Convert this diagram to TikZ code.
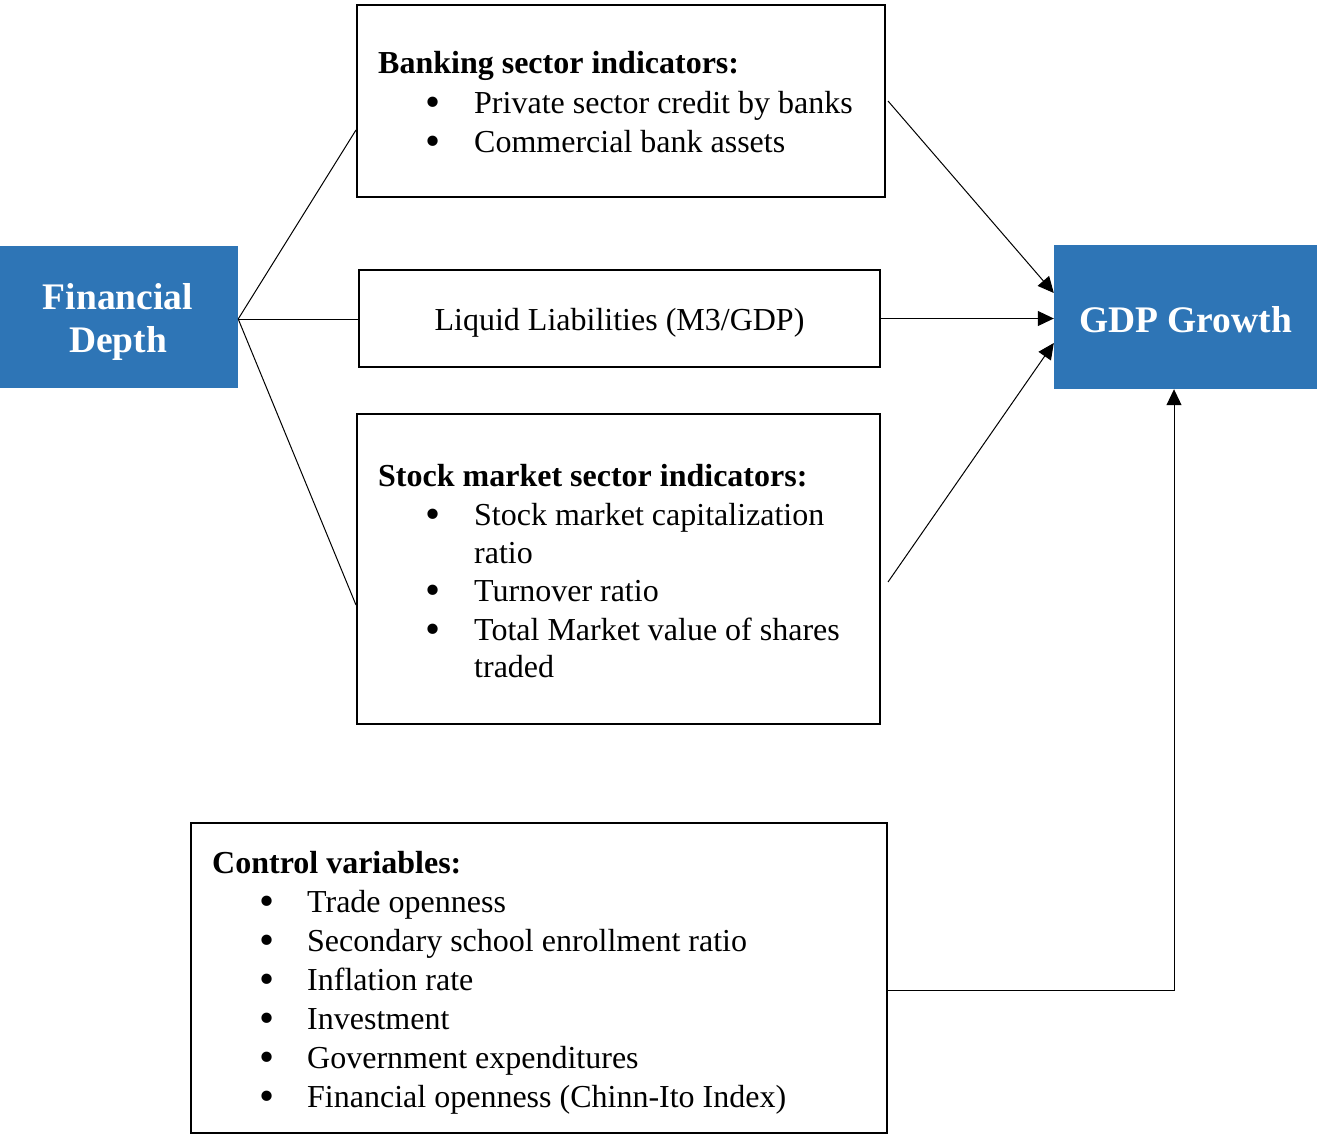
\documentclass[tikz,border=0pt]{standalone}
\usepackage{fontspec}
\setmainfont{Liberation Serif}
\usetikzlibrary{arrows.meta}
\definecolor{boxblue}{HTML}{2E75B6}
\begin{document}
\begin{tikzpicture}[x=1pt,y=-1pt,
 bluebox/.style={fill=boxblue, draw=none, inner sep=0pt},
 bluetext/.style={inner sep=0pt, text=white, font=\fontsize{37.5}{43}\selectfont\bfseries, align=center},
 whitebox/.style={draw=black, line width=2pt, inner sep=0pt},
 txt/.style={anchor=base west, inner sep=0pt, font=\fontsize{32}{39}\selectfont},
 hd/.style={anchor=base west, inner sep=0pt, font=\fontsize{32}{39}\selectfont\bfseries},
 bul/.style={anchor=base, inner sep=0pt, font=\fontsize{43}{43}\selectfont},
 conn/.style={line width=1pt},
 arr/.style={line width=1pt, -{Triangle[length=16pt,width=15pt]}}
]
\useasboundingbox (0,0) rectangle (1317,1135);

% blue boxes
\node[bluebox, minimum width=238pt, minimum height=142pt] (fd) at (119,317) {};
\node[bluetext] (fdt) at (118,322) {Financial\\Depth};
\node[bluebox, minimum width=263pt, minimum height=144pt] (gdp) at (1185.5,317) {};
\node[bluetext] (gdpt) at (1185.5,320) {GDP Growth};

% white boxes
\node[whitebox, minimum width=528pt, minimum height=192pt] (bank) at (621,101) {};
\node[whitebox, minimum width=521pt, minimum height=97pt] (liq) at (619.5,318.5) {};
\node[txt, anchor=base] (liqt) at (619.5,330) {Liquid Liabilities (M3/GDP)};
\node[whitebox, minimum width=523pt, minimum height=310pt] (stock) at (618.5,569) {};
\node[whitebox, minimum width=696pt, minimum height=310pt] (ctrl) at (539,978) {};

% banking text
\node[hd] (bankh) at (378,73) {Banking sector indicators:};
\node[bul] (bb1) at (433,116) {•};
\node[txt] (bt1) at (474,113) {Private sector credit by banks};
\node[bul] (bb2) at (433,155) {•};
\node[txt] (bt2) at (474,152) {Commercial bank assets};

% stock text
\node[hd] (stockh) at (378,486) {Stock market sector indicators:};
\node[bul] (sb1) at (433,528) {•};
\node[txt] (st1) at (474,525) {Stock market capitalization};
\node[txt] (st1b) at (474,563) {ratio};
\node[bul] (sb2) at (433,604) {•};
\node[txt] (st2) at (474,601) {Turnover ratio};
\node[bul] (sb3) at (433,643) {•};
\node[txt] (st3) at (474,640) {Total Market value of shares};
\node[txt] (st3b) at (474,677) {traded};

% control text
\node[hd] (ctrlh) at (212,873) {Control variables:};
\node[bul] (cb1) at (267,915) {•};
\node[txt] (ct1) at (307,912) {Trade openness};
\node[bul] (cb2) at (267,954) {•};
\node[txt] (ct2) at (307,951) {Secondary school enrollment ratio};
\node[bul] (cb3) at (267,993) {•};
\node[txt] (ct3) at (307,990) {Inflation rate};
\node[bul] (cb4) at (267,1032) {•};
\node[txt] (ct4) at (307,1029) {Investment};
\node[bul] (cb5) at (267,1071) {•};
\node[txt] (ct5) at (307,1068) {Government expenditures};
\node[bul] (cb6) at (267,1110) {•};
\node[txt] (ct6) at (307,1107) {Financial openness (Chinn-Ito Index)};

% connectors
\coordinate (fdE) at ([yshift=-2pt]fd.east);
\draw[conn] (fdE) -- ([yshift=-29pt]bank.west);
\draw[conn] (fdE) -- (fdE -| liq.west);
\draw[conn] (fdE) -- ([yshift=-36pt]stock.west);

\draw[arr] ([xshift=2pt]bank.east) -- ([yshift=24pt]gdp.west);
\draw[arr] (liq.east) -- (liq.east -| gdp.west);
\draw[arr] ([xshift=7pt,yshift=-13pt]stock.east) -- ([yshift=-26pt]gdp.west);
\draw[arr] ([yshift=-12pt]ctrl.east) -| ([xshift=-11.5pt]gdp.south);
\end{tikzpicture}
\end{document}
